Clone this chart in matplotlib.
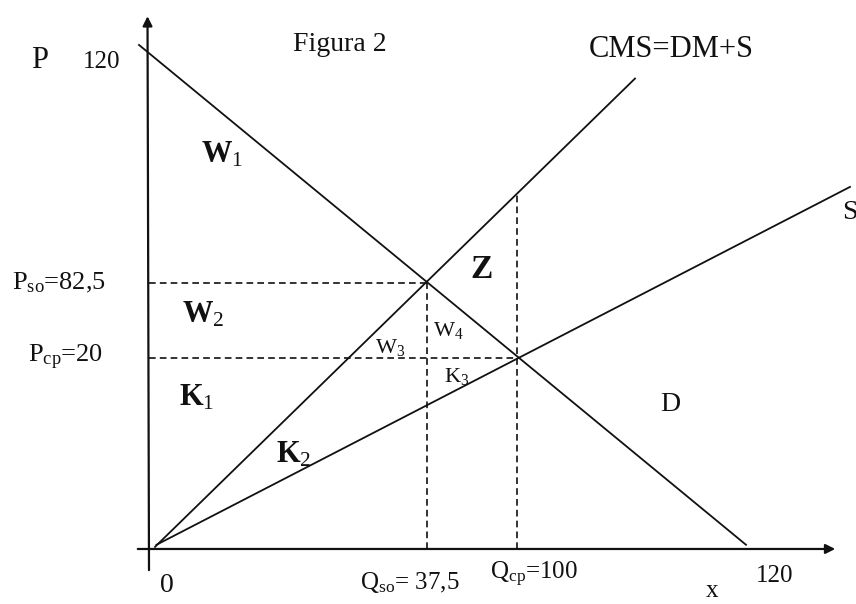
import matplotlib.pyplot as plt

plt.rcParams['font.family'] = ['Liberation Serif', 'DejaVu Serif']
plt.rcParams['mathtext.fontset'] = 'custom'
plt.rcParams['mathtext.rm'] = 'Liberation Serif'
plt.rcParams['mathtext.it'] = 'Liberation Serif:italic'
plt.rcParams['mathtext.bf'] = 'Liberation Serif:bold'

# diagram curves (quantity, price) in the picture's own units
demand_q = [-2, 119.4]
demand_p = [120, 1]
cms_q = [1.2, 97.2]
cms_p = [0.5, 112]
supply_q = [1.5, 140.2]
supply_p = [1.0, 86.2]

# equilibrium points
q_so, p_so = 55.6, 63.3
q_cp, p_cp = 73.6, 45.5
q_cp_top = 84.3

fig = plt.figure(figsize=(8.56, 6.04), dpi=100)
ax = fig.add_axes([0, 0, 1, 1])
ax.set_xlim(-29.8, 141.4)
ax.set_ylim(-13.1, 130.7)
ax.axis('off')

ink = '#111111'

# axes with arrows
ax.annotate('', xy=(137.8, 0), xytext=(-2.8, 0),
            arrowprops=dict(arrowstyle='-|>', color=ink, lw=1.6, mutation_scale=14))
ax.annotate('', xy=(-0.3, 127.5), xytext=(0, -5.7),
            arrowprops=dict(arrowstyle='-|>', color=ink, lw=1.6, mutation_scale=14))

# curves
ax.plot(demand_q, demand_p, color=ink, lw=1.3)
ax.plot(cms_q, cms_p, color=ink, lw=1.3)
ax.plot(supply_q, supply_p, color=ink, lw=1.3)

# dashed guides
dash = dict(color=ink, lw=1.2, linestyle=(0, (4, 2.5)))
ax.plot([0, q_so], [p_so, p_so], **dash)
ax.plot([0, q_cp], [p_cp, p_cp], **dash)
ax.plot([q_so, q_so], [0, p_so], **dash)
ax.plot([q_cp, q_cp], [0, q_cp_top], **dash)

# labels
ax.text(-21.8, 116.4, 'P', fontsize=22, ha='center', va='center', color=ink)
ax.text(-9.4, 116, '120', fontsize=18, ha='center', va='center', color=ink)
ax.text(38.2, 120, 'Figura 2', fontsize=20, ha='center', va='center', color=ink)
ax.text(104.4, 118.8, 'CMS=DM+S', fontsize=22, ha='center', va='center', color=ink)
ax.text(138.6, 80, 'S', fontsize=20, ha='left', va='center', color=ink)
ax.text(104.2, 34.3, 'D', fontsize=20, ha='center', va='center', color=ink)

ax.text(14.6, 93.8, r'$\mathbf{W}_{\mathrm{1}}$', fontsize=22, ha='center', va='center', color=ink)
ax.text(10.8, 55.7, r'$\mathbf{W}_{\mathrm{2}}$', fontsize=22, ha='center', va='center', color=ink)
ax.text(9.6, 36, r'$\mathbf{K}_{\mathrm{1}}$', fontsize=22, ha='center', va='center', color=ink)
ax.text(29, 22.4, r'$\mathbf{K}_{\mathrm{2}}$', fontsize=22, ha='center', va='center', color=ink)
ax.text(66.4, 66.4, r'$\mathbf{Z}$', fontsize=24, ha='center', va='center', color=ink)
ax.text(48.2, 47.9, r'$\mathrm{W}_{3}$', fontsize=16, ha='center', va='center', color=ink)
ax.text(59.8, 51.9, r'$\mathrm{W}_{4}$', fontsize=16, ha='center', va='center', color=ink)
ax.text(61.6, 41, r'$\mathrm{K}_{3}$', fontsize=16, ha='center', va='center', color=ink)

ax.text(-27.4, p_so, r'$\mathrm{P}_{\mathrm{so}}$=82,5', fontsize=19, ha='left', va='center', color=ink)
ax.text(-24.2, p_cp, r'$\mathrm{P}_{\mathrm{cp}}$=20', fontsize=19, ha='left', va='center', color=ink)

ax.text(3.6, -8.6, '0', fontsize=20, ha='center', va='center', color=ink)
ax.text(42.2, -8.1, r'$\mathrm{Q}_{\mathrm{so}}$= 37,5', fontsize=18, ha='left', va='center', color=ink)
ax.text(68.2, -6.0, r'$\mathrm{Q}_{\mathrm{cp}}$=100', fontsize=18, ha='left', va='center', color=ink)
ax.text(125.2, -6.4, '120', fontsize=18, ha='center', va='center', color=ink)
ax.text(112.6, -12.7, 'x', fontsize=18, ha='center', va='bottom', color=ink)

fig.savefig('out.png', dpi=100)
